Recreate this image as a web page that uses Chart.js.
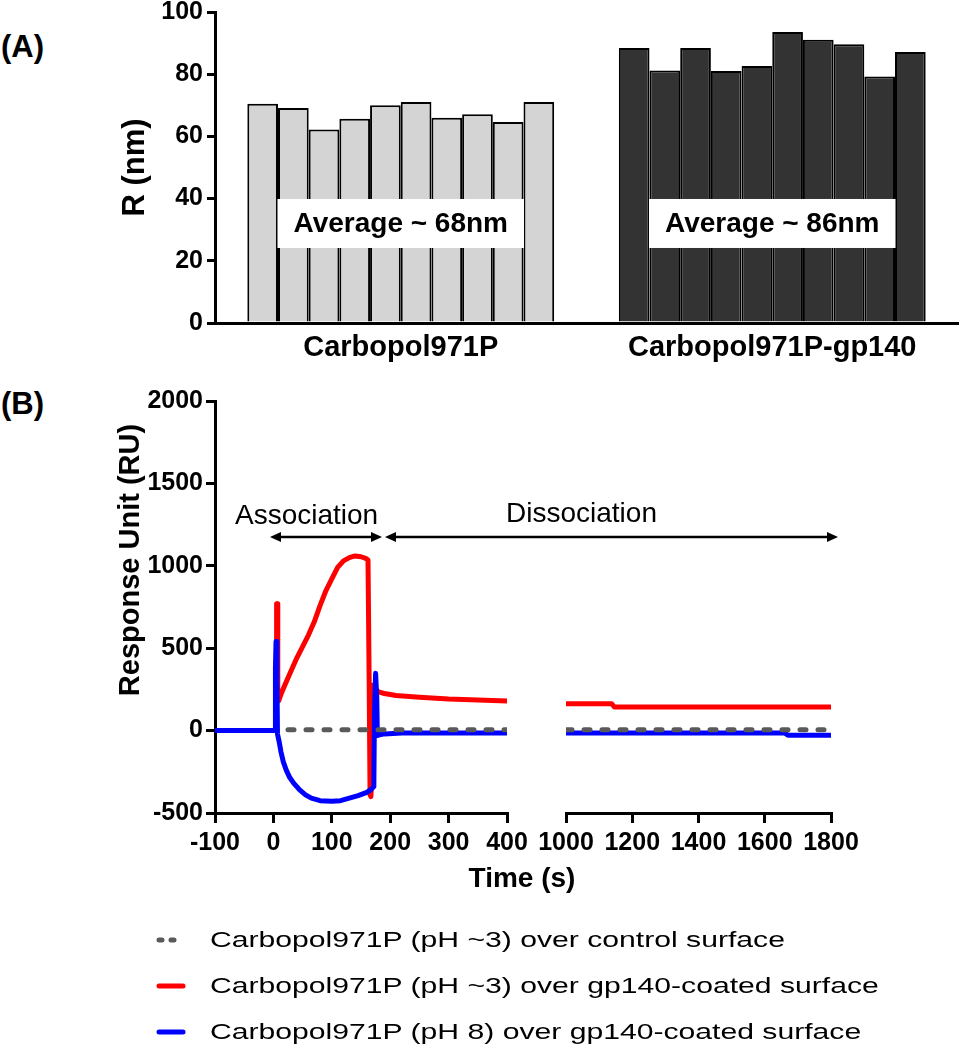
<!DOCTYPE html>
<html lang="en">
<head>
  <meta charset="UTF-8">
  <title>Carbopol971P particle size and gp140 binding</title>
  <script src="https://cdn.jsdelivr.net/npm/chart.js"></script>
  <style>
    body {
      margin: 0;
      background: #fff;
      font-family: Arial, "Liberation Sans", sans-serif;
      color: #000;
    }
    #page {
      position: relative;
      width: 960px;
      height: 1050px;
      overflow: hidden;
    }
    canvas {
      position: absolute;
    }
    .panel-tag {
      position: absolute;
      left: 1px;
      font-weight: bold;
      font-size: 31px;
      line-height: 36px;
    }
    .axis-title {
      position: absolute;
      font-weight: bold;
      text-align: center;
      white-space: nowrap;
    }
    .phase {
      position: absolute;
      font-size: 28px;
      line-height: 34px;
      white-space: nowrap;
    }
    .legend-row {
      position: absolute;
      left: 150px;
      height: 34px;
      width: 800px;
    }
    .legend-row svg {
      position: absolute;
      left: 0;
      top: 0;
    }
    .legend-row span {
      position: absolute;
      left: 60px;
      top: 0;
      font-size: 22px;
      line-height: 34px;
      white-space: nowrap;
      transform: scaleX(1.37);
      transform-origin: left center;
    }
  </style>
</head>
<body>
<div id="page">
  <div class="panel-tag" style="top:29px">(A)</div>
  <div class="panel-tag" style="top:386px">(B)</div>

  <canvas id="sizeChart" width="960" height="380" style="left:0;top:-10px"></canvas>
  <canvas id="sprLeft" width="540" height="503" style="left:0;top:370px"></canvas>
  <canvas id="sprRight" width="430" height="503" style="left:530px;top:370px"></canvas>

  <!-- rotated y title for panel B and shared x title -->
  <div class="axis-title" style="left:-71px;top:542px;width:400px;font-size:29px;line-height:36px;transform:rotate(-90deg)">Response Unit (RU)</div>
  <div class="axis-title" style="left:322px;top:861px;width:400px;font-size:28px;line-height:34px">Time (s)</div>

  <!-- phase annotations -->
  <div class="phase" style="left:235px;top:498px">Association</div>
  <div class="phase" style="left:506px;top:496px">Dissociation</div>
  <svg style="position:absolute;left:0;top:0" width="960" height="1050">
    <g stroke="#000" stroke-width="2.5" fill="#000">
      <line x1="278" y1="537" x2="374" y2="537"/>
      <polygon points="270,537 281,532 281,542" stroke="none"/>
      <polygon points="382,537 371,532 371,542" stroke="none"/>
      <line x1="393" y1="537" x2="830" y2="537"/>
      <polygon points="385,537 396,532 396,542" stroke="none"/>
      <polygon points="838,537 827,532 827,542" stroke="none"/>
    </g>
  </svg>

  <div id="legend"></div>
</div>

<script>
  // Panel A: particle radius of 10 measurements per formulation
  const sizeCategories = ['Carbopol971P', 'Carbopol971P-gp140'];
  const plainRadius = [70.5, 69.1, 62.2, 65.7, 70.0, 71.1, 66.0, 67.1, 64.6, 71.1];
  const gp140Radius = [88.4, 81.2, 88.4, 81.0, 82.6, 93.6, 91.1, 89.6, 79.3, 87.1];
  const averageLabels = ['Average ~ 68nm', 'Average ~ 86nm'];
  const radiusTicks = [0, 20, 40, 60, 80, 100];

  // Panel B: SPR sensorgrams (time in s, response in RU)
  const seriesNames = [
    'Carbopol971P (pH ~3) over control surface',
    'Carbopol971P (pH ~3) over gp140-coated surface',
    'Carbopol971P (pH 8) over gp140-coated surface'
  ];
  const controlTime = [25, 400, 1000, 1800];
  const controlRU = [5, 5, 5, 5];

  const acidTime = [-100, 0, 5, 5.5, 6.5, 7.5, 9, 14, 20, 30, 40, 50, 60, 70, 80, 90, 100, 110, 120, 130, 140, 150, 158, 162,
    164, 165.5, 167, 168, 169, 173, 180, 190, 210, 250, 300, 350, 400, 1000, 1138, 1146, 1800];
  const acidRU = [0, 0, 0, 770, 770, 200, 180, 230, 280, 360, 440, 510, 580, 660, 760, 850, 920, 990, 1030, 1050, 1060, 1055, 1045, 1035,
    300, -390, -400, -300, 275, 258, 235, 225, 213, 203, 192, 185, 180, 163, 163, 143, 143];

  const basicTime = [-100, 0, 3, 3.5, 4.5, 6, 7, 10, 13, 17, 22, 28, 35, 45, 55, 65, 80, 100, 115, 130, 145, 160, 168,
    172, 173, 175, 177, 178, 182, 190, 220, 260, 300, 350, 400, 1000, 1660, 1670, 1800];
  const basicRU = [0, 0, 0, 380, 540, 300, -20, -70, -130, -190, -240, -285, -320, -360, -390, -410, -425, -428, -425, -410, -395, -375, -355,
    -340, 100, 348, 200, -30, -25, -20, -15, -15, -14, -14, -14, -14, -14, -28, -28];

  const responseTicks = [-500, 0, 500, 1000, 1500, 2000];
  const earlyTimeTicks = [-100, 0, 100, 200, 300, 400];
  const lateTimeTicks = [1000, 1200, 1400, 1600, 1800];

  const seriesColors = ['#5a5a5a', '#ff0000', '#0000ff'];

  Chart.defaults.font.family = 'Arial, "Liberation Sans", sans-serif';
  Chart.defaults.color = '#000';

  const tickFont = { size: 25, weight: 'bold' };
  const plain = v => String(v);

  // ---------- Panel A ----------
  const averageBoxes = {
    id: 'averageBoxes',
    afterDatasetsDraw(chart) {
      const { ctx, scales: { x, y } } = chart;
      ctx.save();
      ctx.font = 'bold 28px Arial, "Liberation Sans", sans-serif';
      ctx.textAlign = 'center';
      ctx.textBaseline = 'middle';
      averageLabels.forEach((txt, i) => {
        const cx = x.getPixelForValue(i);
        const cy = y.getPixelForValue(32);
        const w = ctx.measureText(txt).width + 32;
        ctx.fillStyle = '#fff';
        ctx.fillRect(cx - w / 2, cy - 24.5, w, 49);
        ctx.fillStyle = '#000';
        ctx.fillText(txt, cx, cy + 1);
      });
      ctx.restore();
    }
  };

  const barDatasets = plainRadius.map((v, i) => ({
    data: [v, gp140Radius[i]],
    backgroundColor: ['#d4d4d4', '#333333'],
    borderColor: '#000',
    borderWidth: 2,
    categoryPercentage: 0.826,
    barPercentage: 1.0
  }));

  new Chart(document.getElementById('sizeChart'), {
    type: 'bar',
    data: { labels: sizeCategories, datasets: barDatasets },
    options: {
      responsive: false,
      animation: false,
      layout: { padding: { top: 22, right: 2, left: 0, bottom: 0 } },
      plugins: { legend: { display: false }, tooltip: { enabled: false } },
      scales: {
        x: {
          grid: { display: false },
          border: { color: '#000', width: 3 },
          ticks: { font: { size: 29, weight: 'bold' }, padding: 0 },
          afterFit: s => { s.height = 47; }
        },
        y: {
          min: 0,
          max: 100,
          afterBuildTicks: s => { s.ticks = radiusTicks.map(v => ({ value: v })); },
          grid: { drawOnChartArea: false, tickLength: 8, color: '#000', lineWidth: 3 },
          border: { color: '#000', width: 3 },
          ticks: { font: tickFont, padding: 4, callback: plain },
          title: { display: true, text: 'R (nm)', font: { size: 31, weight: 'bold' }, padding: { top: 117, bottom: 0 } },
          afterFit: s => { s.width = 215; }
        }
      }
    },
    plugins: [averageBoxes]
  });

  // ---------- Panel B ----------
  function points(ts, vs, lo, hi) {
    const out = [];
    ts.forEach((t, i) => { if (t >= lo && t <= hi) out.push({ x: t, y: vs[i] }); });
    return out;
  }

  function sprDatasets(lo, hi) {
    const base = { borderWidth: 5, pointRadius: 0, tension: 0, borderJoinStyle: 'round', fill: false };
    return [
      Object.assign({}, base, { label: seriesNames[0], data: points(controlTime, controlRU, lo, hi),
        borderColor: seriesColors[0], borderDash: [6, 12], borderCapStyle: 'round' }),
      Object.assign({}, base, { label: seriesNames[2], data: points(basicTime, basicRU, lo, hi),
        borderColor: seriesColors[2] }),
      Object.assign({}, base, { label: seriesNames[1], data: points(acidTime, acidRU, lo, hi),
        borderColor: seriesColors[1] })
    ];
  }

  const yRange = {
    min: -500,
    max: 2000,
    afterBuildTicks: s => { s.ticks = responseTicks.map(v => ({ value: v })); }
  };

  function timeAxis(lo, hi, tickList) {
    return {
      type: 'linear',
      min: lo,
      max: hi,
      afterBuildTicks: s => { s.ticks = tickList.map(v => ({ value: v })); },
      grid: { drawOnChartArea: false, tickLength: 10, color: '#000', lineWidth: 3 },
      border: { color: '#000', width: 3 },
      ticks: { font: tickFont, padding: 5, maxRotation: 0, callback: plain },
      afterFit: s => { s.height = 60; }
    };
  }

  new Chart(document.getElementById('sprLeft'), {
    type: 'line',
    data: { datasets: sprDatasets(-100, 400) },
    options: {
      responsive: false,
      animation: false,
      parsing: false,
      layout: { padding: { top: 31, right: 33, left: 0, bottom: 0 } },
      plugins: { legend: { display: false }, tooltip: { enabled: false } },
      scales: {
        x: timeAxis(-100, 400, earlyTimeTicks),
        y: Object.assign({}, yRange, {
          grid: { drawOnChartArea: false, tickLength: 9, color: '#000', lineWidth: 3 },
          border: { color: '#000', width: 3 },
          ticks: { font: tickFont, padding: 3, callback: plain },
          afterFit: s => { s.width = 215; }
        })
      }
    }
  });

  new Chart(document.getElementById('sprRight'), {
    type: 'line',
    data: { datasets: sprDatasets(1000, 1800) },
    options: {
      responsive: false,
      animation: false,
      parsing: false,
      layout: { padding: { top: 31, right: 129, left: 36, bottom: 0 } },
      plugins: { legend: { display: false }, tooltip: { enabled: false } },
      scales: {
        x: timeAxis(1000, 1800, lateTimeTicks),
        y: Object.assign({}, yRange, { display: false })
      }
    }
  });

  // legend built from the series names and colours
  const legendTops = [923, 969, 1015];
  const legend = document.getElementById('legend');
  seriesNames.forEach((name, i) => {
    const row = document.createElement('div');
    row.className = 'legend-row';
    row.style.top = legendTops[i] + 'px';
    const dash = i === 0 ? 'stroke-dasharray="3 9"' : '';
    row.innerHTML =
      '<svg width="44" height="34"><line x1="9" y1="17" x2="33" y2="17" stroke="' + seriesColors[i] +
      '" stroke-width="5" stroke-linecap="round" ' + dash + '/></svg><span>' + name + '</span>';
    legend.appendChild(row);
  });
</script>
</body>
</html>
